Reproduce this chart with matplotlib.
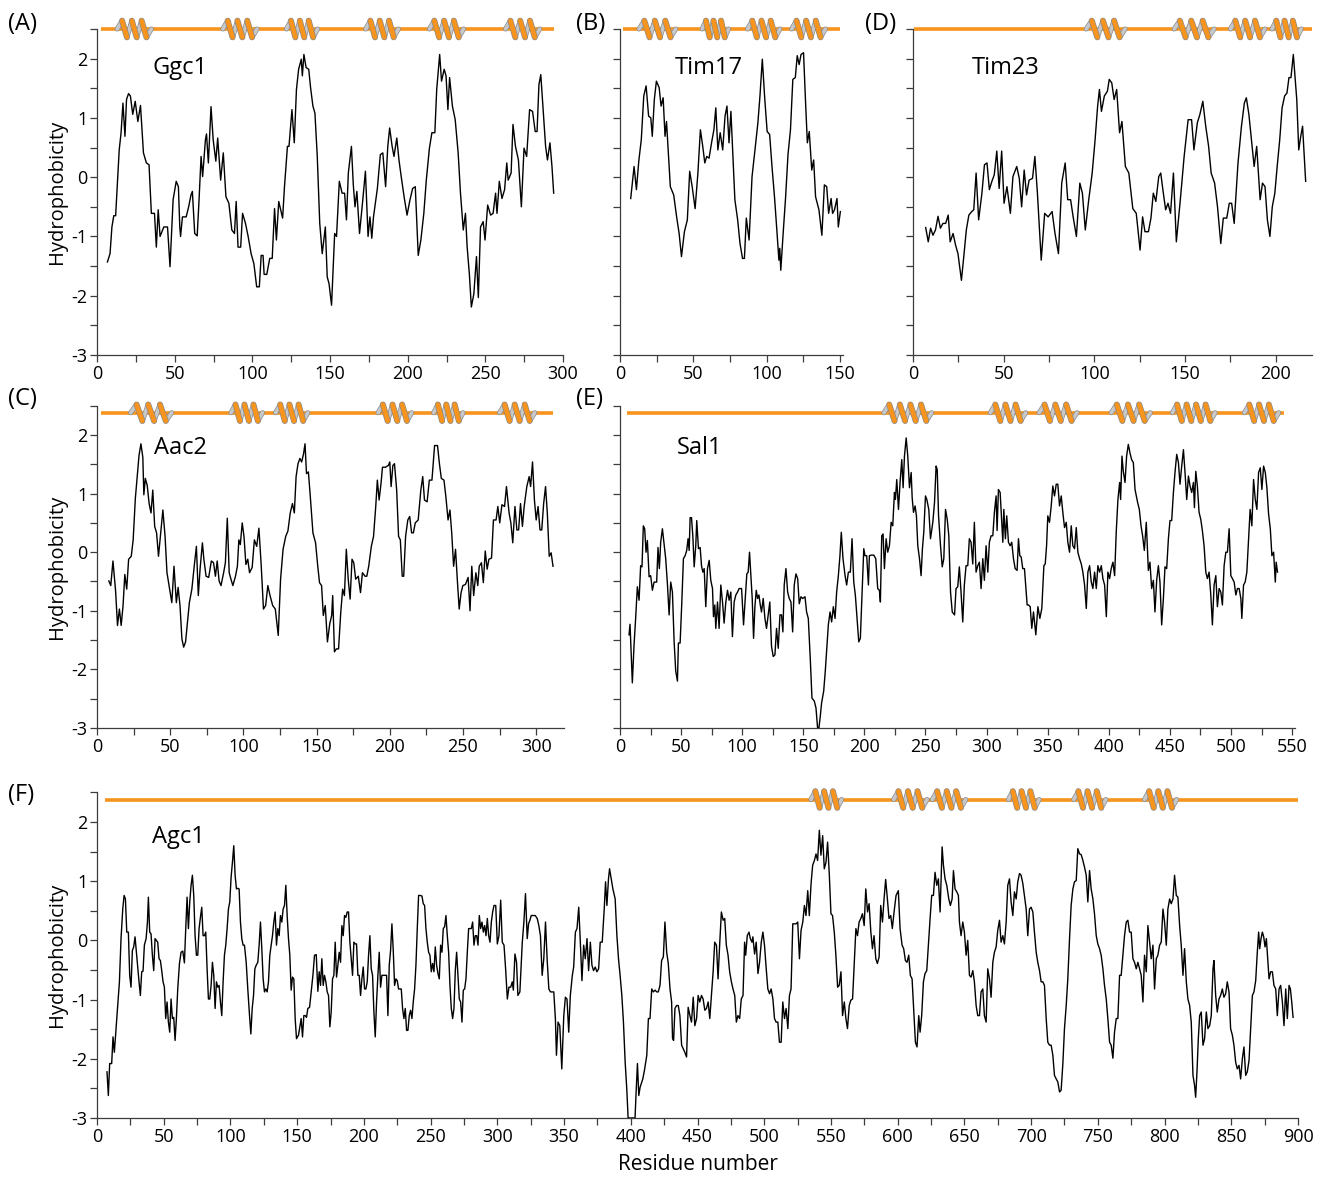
import matplotlib
matplotlib.use("Agg")
import matplotlib.pyplot as plt
import matplotlib.patheffects as pe
import numpy as np

plt.rcParams["font.family"] = ["Open Sans", "DejaVu Sans"]
plt.rcParams["axes.unicode_minus"] = False

# hydrophobicity profiles, (residue, value)
GGC1 = [(6.7,-1.43),(8.4,-1.29),(9.6,-0.84),(10.8,-0.65),(12,-0.65),(13,-0.16),(14.3,0.46),(15.5,0.75),(16.7,1.25),(18,0.69),(19,1.31),(20.3,1.41),(21.5,1.37),(23,1.06),(24.6,1.28),(26.3,0.94),(28,1.21),(29.9,0.41),(31.8,0.24),(33.5,0.21),(35,-0.61),(37,-0.61),(38.2,-1.18),(39.4,-0.55),(40.6,-1.0),(43,-0.84),(45.4,-0.84),(47,-1.51),(49,-0.38),(51,-0.07),(52.4,-0.16),(53.3,-0.84),(53.8,-1.0),(55,-0.67),(57.4,-0.67),(59,-0.5),(60.5,-0.3),(61.4,-0.24),(62.9,-0.95),(64.5,-0.99),(65.7,-0.38),(67,0.35),(68,0.01),(69.8,0.63),(70.5,0.73),(71.7,0.24),(73.4,1.19),(74.8,0.63),(76.5,0.27),(77.7,0.66),(79.6,-0.05),(81.3,0.41),(83,-0.33),(84.9,-0.44),(86.8,-0.89),(88.5,-0.95),(89.6,-0.41),(90.8,-1.18),(92.5,-1.18),(93.7,-0.61),(95.6,-0.78),(97.3,-1.0),(99.2,-1.29),(101,-1.46),(102.8,-1.85),(104.5,-1.85),(105.7,-1.32),(106.9,-1.32),(107.6,-1.64),(109.3,-1.64),(111.2,-1.37),(112.8,-1.37),(114.3,-0.53),(115.5,-1.06),(117,-0.41),(119.5,-0.69),(120.7,-0.16),(122.6,0.52),(123.6,0.52),(125.5,1.14),(127,0.58),(128.4,1.48),(129.8,1.82),(131.5,1.99),(132.2,1.71),(133.2,2.07),(134.6,1.85),(136.3,1.82),(137.5,1.51),(139,1.2),(140.3,1.08),(141.8,0.35),(143.4,-0.78),(145,-1.29),(147,-0.84),(148.2,-1.68),(149.4,-1.8),(151,-2.16),(153,-0.95),(154.2,-1.0),(156,-0.07),(157.8,-0.27),(159.4,-0.27),(160.6,-0.72),(161.8,0.07),(163.8,0.52),(165,-0.13),(166.1,-0.5),(167.3,-0.24),(169,-0.95),(170.9,-0.44),(172.8,0.1),(174.5,-1.0),(175.7,-0.67),(176.9,-1.03),(178,-0.67),(180.5,-0.19),(182.4,0.38),(184,0.41),(185.8,-0.16),(187.2,0.52),(188.4,0.83),(190,0.52),(191.2,0.35),(193,0.66),(194.4,0.29),(196,-0.02),(197.7,-0.33),(199.6,-0.64),(201.5,-0.38),(203.2,-0.19),(204.9,-0.16),(206.8,-1.32),(208.5,-1.06),(210.4,-0.61),(212,-0.05),(214,0.49),(215.6,0.75),(217.5,0.75),(218.7,1.48),(220.6,2.07),(221.8,1.62),(223.5,1.82),(224.7,1.71),(225.9,1.14),(227,1.68),(228.8,1.2),(230.6,0.97),(232.5,0.41),(234,-0.27),(235.8,-0.89),(237.2,-0.61),(238.3,-1.18),(239.7,-1.63),(241,-2.19),(242.6,-1.97),(244.3,-1.34),(245.5,-2.03),(246.9,-0.84),(248.6,-0.75),(249.8,-1.06),(251.5,-0.47),(253.4,-0.64),(255,-0.61),(256.6,-0.27),(257.5,-0.61),(259,-0.07),(260.7,-0.36),(262.4,-0.21),(263.8,0.24),(264.7,-0.05),(266.6,0.07),(267.8,0.89),(269.4,0.52),(271.3,0.29),(273.2,-0.5),(274.9,0.49),(276.6,0.35),(278.5,1.14),(280.4,1.11),(282.1,0.77),(283.3,0.77),(284.5,1.56),(285.7,1.73),(287.4,1.06),(288.8,0.52),(290,0.29),(291.6,0.58),(292.9,0.18),(294,-0.27)]

TIM17 = [(7.3,-0.36),(9.6,0.18),(11.2,-0.21),(12.8,0.27),(14.5,0.63),(16.2,1.37),(17.8,1.54),(19.5,1.03),(21,1.0),(22,0.69),(23.4,1.31),(24.8,1.62),(26.7,1.51),(28,1.2),(29.4,1.34),(30.7,0.69),(31.7,0.94),(34.3,-0.16),(36.6,-0.3),(38.6,-0.67),(40.3,-0.95),(41.9,-1.34),(43.9,-0.92),(45.9,-0.72),(47.5,0.1),(49.2,-0.16),(51.2,-0.53),(53.1,0.07),(54.8,0.8),(56.4,0.52),(57.8,0.24),(59.1,0.35),(60.7,0.32),(62.4,0.58),(64,0.8),(65.3,1.17),(66.7,0.46),(68.3,0.75),(70,0.46),(71.6,1.03),(72.9,1.2),(74.3,0.58),(75.6,1.11),(78.3,-0.38),(80.2,-0.72),(81.8,-1.12),(83.5,-1.37),(84.8,-1.37),(86.1,-0.69),(88,-1.06),(90,0.01),(92,0.46),(94,0.92),(95.4,1.37),(97,1.99),(98.7,1.31),(100.3,0.77),(102,0.72),(103.6,0.18),(105.3,-0.33),(106.9,-0.89),(108.3,-1.4),(108.9,-1.2),(109.6,-1.57),(111.2,-0.95),(112.9,-0.33),(114.5,0.38),(116.2,0.8),(117.8,1.65),(119.5,1.68),(120.8,2.05),(122.1,1.9),(123.4,2.07),(125.1,2.1),(126.4,1.31),(127.7,0.58),(129,0.77),(130.7,0.12),(132,0.29),(133.3,-0.33),(135.6,-0.55),(137.6,-0.98),(139.3,-0.13),(140.9,-0.16),(142.2,-0.61),(143.9,-0.36),(144.9,-0.61),(146.2,-0.55),(147.9,-0.36),(148.8,-0.84),(150.2,-0.58)]

TIM23 = [(7,-0.85),(8.4,-1.09),(9.7,-0.86),(11,-0.98),(12.4,-0.89),(13.8,-0.66),(15.1,-0.86),(16.5,-0.78),(18,-0.78),(19.4,-0.64),(20.5,-1.09),(22.1,-0.95),(23.5,-1.15),(24.8,-1.29),(26.7,-1.74),(28,-1.34),(29.4,-0.89),(30.8,-0.64),(32.4,-0.58),(33.5,-0.55),(34.8,0.07),(36.2,-0.72),(38,-0.27),(39.4,0.21),(40.8,0.24),(42.1,-0.21),(43.5,-0.07),(44.8,0.04),(46.2,0.44),(47.5,-0.19),(48.9,0.44),(50.2,-0.44),(51.8,-0.16),(53.7,-0.61),(55.1,0.01),(57.2,0.18),(58.6,-0.02),(59.9,-0.5),(61.3,0.12),(62.6,-0.3),(64,-0.05),(65.9,-0.02),(67.2,0.35),(68.6,-0.27),(70.7,-1.4),(72.6,-0.61),(74.5,-0.67),(76.7,-0.58),(78.3,-0.95),(80.2,-1.29),(82,-0.1),(83.9,0.24),(85.3,-0.38),(86.9,-0.38),(88.3,-0.67),(90.1,-1.0),(92,-0.1),(93.4,-0.27),(95,-0.89),(96.9,-0.38),(98.8,0.07),(100.4,0.63),(101.8,1.2),(102.8,1.48),(103.9,1.11),(105.5,1.37),(107.2,1.45),(108.2,1.65),(109.6,1.59),(110.9,1.31),(112.3,1.48),(113.9,0.75),(115.2,0.94),(117.1,0.18),(119,0.07),(121.2,-0.53),(123.1,-0.61),(125.2,-1.23),(126.6,-0.67),(127.9,-0.92),(129.8,-0.92),(131.2,-0.69),(132.5,-0.27),(133.9,-0.41),(135.5,0.01),(136.6,0.07),(137.9,-0.24),(139.3,-0.55),(140.6,-0.44),(142,-0.61),(143.6,0.07),(145.2,-1.09),(147.4,-0.38),(149.5,0.35),(151.7,0.97),(153.6,0.97),(154.9,0.46),(156.8,0.92),(158.2,1.06),(159.8,1.28),(161.4,0.86),(163,0.52),(164.4,0.07),(166.3,-0.1),(167.9,-0.5),(169.7,-1.12),(171.1,-0.69),(173,-0.69),(174.4,-0.44),(175.7,-0.44),(177.1,-0.78),(179.2,0.24),(181.1,0.86),(182.7,1.25),(183.8,1.34),(185.2,1.06),(186.8,0.58),(188.1,0.18),(189.5,0.52),(191.4,-0.38),(192.7,-0.1),(194.1,-0.16),(195.4,-0.72),(196.8,-1.0),(198.1,-0.5),(199.5,-0.27),(200.8,0.18),(202.2,0.63),(203.5,1.17),(204.9,1.37),(206.2,1.42),(207.3,1.68),(208.4,1.68),(209.7,2.07),(211.6,1.31),(212.7,0.46),(213.8,0.69),(214.8,0.86),(216.5,-0.07)]

AAC2 = [(8.1,-0.49),(9.4,-0.57),(10.9,-0.15),(12.7,-0.66),(14,-1.25),(15.3,-0.97),(16.5,-1.25),(17.8,-0.91),(19,-0.38),(20.3,-0.63),(21.6,-0.12),(23.4,-0.07),(24.7,0.21),(26.2,0.92),(27.5,1.29),(28.7,1.65),(30,1.85),(31.3,1.62),(32,0.98),(33,1.26),(34.3,1.14),(35.6,0.83),(36.9,0.67),(38.1,1.06),(39.4,0.44),(40.7,0.33),(42,-0.07),(43.5,0.33),(45,0.72),(46.5,0.27),(47.8,-0.35),(49.6,-0.63),(51.1,-0.86),(52.6,-0.24),(54.2,-0.86),(55.4,-0.6),(56.7,-0.91),(58,-1.48),(59.2,-1.62),(60.5,-1.53),(61.8,-1.19),(63.1,-0.86),(64.8,-0.63),(66.4,-0.24),(67.9,0.1),(69.2,-0.74),(70.4,-0.29),(72,0.16),(73,-0.12),(74.5,-0.41),(76.3,-0.43),(78.1,-0.15),(79.6,-0.18),(80.9,-0.41),(82.1,-0.15),(83.4,-0.49),(84.7,-0.57),(86.5,-0.35),(87.7,-0.18),(89,0.58),(90.3,-0.35),(91.5,-0.46),(92.8,-0.57),(94.6,-0.41),(95.9,-0.24),(96.9,0.21),(97.9,0.13),(99.2,0.5),(100.4,0.27),(101.7,-0.21),(103,-0.12),(104.2,-0.35),(106,-0.26),(107.5,0.21),(109.1,0.1),(110.6,0.41),(112.2,-0.24),(113.7,-0.97),(115.2,-0.91),(116.7,-0.57),(118.2,-0.74),(120,-0.91),(121.8,-0.97),(123.8,-1.42),(125.4,-0.46),(127.1,0.05),(128.9,0.27),(130.4,0.36),(132,0.67),(133.5,0.83),(134.8,0.67),(136,1.29),(137.3,1.51),(138.6,1.6),(139.8,1.54),(141.1,1.68),(142.1,1.85),(143.1,1.34),(144.4,1.37),(145.7,0.95),(147.5,0.33),(149.3,0.16),(150.8,-0.24),(152,-0.52),(153.4,-0.57),(154.6,-1.08),(155.9,-0.91),(157.4,-1.53),(159,-1.22),(160.3,-1.08),(161,-0.74),(162.2,-1.7),(163.5,-1.65),(165,-1.65),(166.5,-1.03),(167.8,-0.63),(169,-0.74),(170.3,0.05),(171.6,-0.46),(172.9,-0.8),(174.2,-0.12),(175.4,-0.18),(176.7,-0.46),(178.5,-0.41),(180,-0.69),(181.3,-0.35),(183.1,-0.41),(184.3,-0.41),(185.6,-0.24),(187.4,0.1),(188.9,0.27),(190.4,0.78),(191.5,1.23),(192.7,0.89),(194,1.17),(195,1.45),(197,1.45),(199,1.48),(200,1.54),(200.9,1.12),(202.1,1.48),(203.2,1.51),(204.7,1.06),(206,0.27),(207.2,0.21),(208.5,-0.41),(209.5,-0.41),(210.8,0.27),(212.3,0.55),(213.6,0.61),(214.9,0.33),(216.1,0.33),(217.4,0.5),(219.4,0.55),(221.2,1.06),(222.5,1.29),(223.7,0.89),(225.5,0.86),(227,1.23),(228.8,1.23),(230.6,1.82),(232.6,1.82),(233.9,1.51),(235.2,1.26),(237,1.23),(238.3,0.95),(239.8,0.55),(241.1,0.72),(242.3,0.33),(243.6,-0.24),(244.9,0.05),(246.1,-0.46),(247.4,-0.97),(248.7,-0.69),(249.9,-0.57),(251.7,-0.55),(253.5,-0.43),(254.8,-1.0),(256,-0.24),(257.3,-0.74),(258.8,-0.35),(260.1,-0.57),(261.1,-0.24),(262.6,-0.18),(263.9,-0.52),(265.2,0.02),(266.5,-0.29),(267.7,-0.12),(269.5,-0.1),(270.8,0.55),(272.6,0.55),(273.8,0.78),(275.1,0.5),(276.6,0.81),(278.4,0.78),(279.7,1.12),(281.5,0.67),(282.7,0.5),(284,0.16),(285.5,0.78),(286.8,0.38),(288,0.38),(289.3,0.83),(290.6,0.44),(291.8,0.78),(293.6,1.12),(295.2,1.29),(296.2,1.12),(297.5,1.54),(298.8,0.89),(300,0.55),(301.3,0.78),(302.6,0.38),(303.8,0.38),(305.1,0.83),(306.4,1.12),(307.6,0.67),(308.9,-0.07),(310.2,-0.01),(311.5,-0.24)]

SAL1 = [(7.4,-1.41),(8.2,-1.23),(10.1,-2.23),(11.5,-1.58),(12.8,-1.13),(14.2,-0.59),(15.6,-0.82),(16.9,-0.23),(18,-0.25),(19.1,0.45),(20.2,0.4),(21.3,0.0),(22.4,0.2),(23.8,-0.42),(25.1,-0.4),(26.5,-0.65),(27.9,-0.51),(30,-0.51),(31.1,0.08),(32.2,-0.28),(33.3,0.17),(34.7,0.4),(36.1,0.14),(37.4,-0.11),(38.8,-0.54),(40.2,-1.07),(41.5,-0.51),(42.9,-0.68),(44.3,-1.53),(45.6,-2.03),(47,-2.2),(47.8,-1.55),(49.2,-1.55),(50.5,-0.9),(51.9,-0.11),(53.3,-0.06),(54.6,0.03),(55.7,0.23),(56.6,0.03),(57.4,0.59),(58.5,0.59),(59.6,0.28),(60.7,-0.25),(62,0.11),(62.8,0.54),(64.2,0.06),(65.6,0.08),(66.7,-0.23),(67.8,-0.34),(68.9,-0.28),(70.2,-0.93),(71.6,-0.28),(73,-0.14),(74.3,-0.48),(75.7,-0.62),(76.5,-1.1),(77.6,-0.9),(78.4,-1.3),(79.8,-0.85),(81.1,-1.3),(82.5,-0.56),(83.9,-0.85),(85.2,-1.21),(86.6,-0.85),(88,-0.65),(89.3,-0.82),(90.7,-0.68),(92,-1.44),(93.4,-0.85),(94.8,-0.73),(96.2,-0.68),(97.5,-0.62),(99.5,-0.62),(101.1,-1.24),(102.5,-0.79),(103.8,-0.37),(104.9,-0.34),(106,0.0),(107.1,-0.4),(108.2,-0.79),(109.3,-1.47),(110.4,-0.93),(111.5,-0.65),(112.6,-0.79),(113.7,-0.73),(114.8,-0.9),(115.8,-1.02),(117.2,-0.79),(118.6,-1.13),(119.9,-1.3),(121.3,-1.07),(122.6,-0.85),(124,-1.61),(125.4,-1.78),(126.8,-1.75),(128.1,-1.3),(129.5,-1.64),(130.9,-1.07),(132.2,-1.07),(133.3,-1.36),(134.4,-0.56),(135.8,-0.28),(137.2,-0.68),(138.5,-0.79),(139.9,-0.85),(141.3,-1.36),(142.6,-0.56),(144,-0.37),(145.4,-0.45),(146.7,-0.88),(148.1,-0.76),(149.5,-0.79),(151.4,-0.76),(152.7,-1.02),(154.1,-1.13),(155.7,-1.81),(157.1,-2.49),(159,-2.54),(160.4,-2.66),(161.7,-3.0),(162.8,-3.0),(163.9,-2.8),(165,-2.57),(166.7,-2.37),(168,-2.03),(169.4,-1.58),(170.5,-1.24),(171.9,-1.02),(173.2,-1.19),(174.6,-0.93),(176,-1.13),(177.3,-0.68),(178.7,-0.4),(180,-0.06),(181.1,0.34),(182.5,-0.11),(184.2,-0.4),(185.5,-0.56),(186.9,-0.34),(188.5,-0.34),(189.9,0.23),(191.3,-0.51),(192.6,-0.73),(194,-1.13),(195.4,-1.53),(196.7,-1.47),(198.1,-0.68),(199.5,0.06),(200.5,-0.06),(201.9,-0.06),(203.3,-0.56),(204.1,-0.06),(205.5,-0.05),(207.7,-0.05),(209.3,-0.11),(210.9,-0.62),(212.3,-0.65),(213.1,-0.85),(214.2,0.28),(215.3,0.31),(216.4,-0.28),(217.8,0.23),(219.1,0.0),(220.5,0.11),(221.9,0.51),(223.2,0.45),(224.6,1.02),(225.4,0.9),(226.5,1.24),(227.9,0.73),(229.2,1.19),(230.6,1.58),(231.7,1.1),(232.8,1.64),(234.2,1.95),(235.5,1.64),(236.9,1.1),(238.3,1.36),(239.1,0.93),(240.2,0.68),(241.5,0.79),(242.6,0.62),(243.7,0.11),(245.1,-0.11),(246.4,-0.4),(247.5,0.06),(248.6,0.34),(250,0.96),(251.1,0.9),(252.7,0.73),(254.1,0.23),(256,0.51),(257.4,0.85),(258.7,1.47),(259.6,1.41),(260.7,0.62),(262.3,0.11),(263.7,-0.25),(265,-0.11),(266.4,0.73),(267.8,0.56),(269.1,0.28),(270.5,-0.68),(271.9,-1.02),(273.8,-1.07),(275,-0.62),(276.4,-0.59),(277.7,-0.25),(279.1,-0.68),(280.5,-1.19),(281.8,-0.56),(283.2,-0.23),(284.6,-0.23),(285.9,0.23),(287.3,0.17),(288.7,-0.2),(290,0.51),(291.4,-0.34),(292.8,-0.23),(294.1,-0.17),(295.5,-0.62),(296.9,-0.11),(298.2,-0.48),(299.6,0.11),(301,-0.34),(302.3,0.17),(303.7,0.28),(305.1,0.28),(306.4,0.68),(307.8,0.96),(308.6,0.37),(309.7,1.07),(311.1,1.02),(313.3,0.17),(314.1,0.73),(315.4,0.23),(316.5,0.62),(317.9,0.17),(319.3,0.11),(320.6,0.17),(322,-0.11),(323.4,-0.28),(325,-0.31),(326.1,0.23),(327.2,-0.06),(328.3,-0.08),(329.6,-0.28),(331,-0.28),(333.2,-0.9),(334.3,-0.9),(335.7,-0.93),(337,-1.3),(338.4,-1.02),(340.3,-1.41),(342,-0.93),(343.6,-1.13),(345.2,-0.96),(346.9,-0.23),(348,-0.2),(349.1,0.11),(350.1,0.62),(351.5,0.51),(352.9,0.79),(354.2,1.13),(355.6,0.96),(357,1.16),(358.3,1.16),(359.7,0.79),(361.1,0.96),(362.4,0.68),(363.8,0.42),(365.2,0.51),(366.5,0.17),(367.9,0.0),(369.3,0.45),(370.6,0.11),(372,0.06),(373.4,0.42),(374.7,0.0),(376.1,-0.11),(377.5,-0.2),(378.8,-0.34),(380.2,-0.56),(381.6,-0.96),(382.9,-0.34),(384.3,-0.23),(385.7,-0.51),(387,-0.62),(388.4,-0.34),(389.8,-0.62),(391.1,-0.23),(392.5,-0.34),(393.9,-0.23),(395.2,-0.45),(396.6,-0.56),(398,-1.1),(399.3,-0.34),(400.7,-0.45),(402,-0.28),(403.4,-0.17),(404.8,-0.4),(406.1,0.34),(407.5,0.9),(408.9,1.19),(409.7,0.9),(410.8,1.64),(411.9,1.38),(413.3,1.19),(414.6,1.64),(416,1.84),(417.4,1.69),(418.7,1.58),(420.1,1.53),(421.5,1.07),(423.6,0.85),(425,0.73),(426.4,0.45),(427.7,0.28),(429.1,0.03),(430.7,0.51),(432.4,-0.31),(433.7,-0.17),(435.1,-0.62),(436.5,-0.48),(437.8,-1.02),(439.2,-0.48),(440.6,-0.23),(441.9,-0.51),(443.3,-1.24),(444.7,-0.79),(446,-0.25),(447.4,-0.28),(448.8,0.23),(450.1,0.54),(451.5,0.54),(452.9,1.02),(454.2,1.36),(455.6,1.67),(457,1.53),(458.3,1.16),(459.7,1.47),(461.1,1.75),(462.4,1.36),(463.8,0.9),(465.2,1.3),(466.5,1.13),(467.9,1.02),(469.3,1.19),(470.1,0.76),(471.2,1.38),(472.5,1.13),(473.9,0.68),(475.3,0.56),(476.6,0.37),(478,0.11),(479.4,-0.34),(480.7,-0.45),(482.1,-0.34),(483.5,-0.73),(484.8,-1.24),(486.2,-0.56),(487.6,-0.4),(488.9,-0.93),(490.3,-0.62),(491.7,-0.68),(493,-0.9),(494.4,-0.23),(495.8,0.0),(497.1,0.0),(498.5,0.4),(499.9,-0.4),(501.2,-0.45),(502.6,-0.51),(504,-0.73),(505.3,-0.62),(506.7,-0.62),(508.1,-0.79),(508.9,-1.13),(510.3,-0.56),(511.6,-0.51),(513,-0.34),(514.4,0.23),(515.7,0.73),(517.1,0.45),(518.5,1.24),(519.9,0.9),(521.2,0.73),(522.6,1.36),(524,1.44),(525.3,1.07),(526.7,1.47),(528.1,1.36),(529.4,1.1),(530.8,0.65),(532.2,0.4),(533.5,-0.06),(534.9,0.0),(536.3,-0.51),(537,-0.17),(538.1,-0.34)]

AGC1 = [(7.5,-2.22),(8.5,-2.62),(9.5,-2.08),(11,-2.08),(12,-1.63),(13,-1.89),(14.3,-1.49),(15.5,-1.1),(16.8,-0.7),(18,0.03),(19.3,0.53),(20.3,0.76),(21.3,0.7),(22.3,0.14),(23.5,0.14),(24.5,-0.59),(25.5,-0.79),(26.5,-0.17),(27.5,-0.11),(28.5,0.06),(29.5,-0.2),(30.5,-0.48),(31.5,-0.7),(32.5,-0.93),(33.5,-0.53),(34.5,-0.52),(35.5,-0.08),(36.8,0.03),(37.8,0.31),(38.5,0.73),(39.5,0.14),(40.5,0.11),(41.5,-0.25),(42.5,-0.51),(43.5,0.03),(44.5,0.0),(45.5,-0.03),(46.5,-0.31),(47.5,-0.34),(48.5,-0.51),(49.5,-0.7),(50.5,-0.79),(51.5,-1.32),(52.5,-1.04),(53.5,-1.38),(54.5,-1.55),(55.5,-0.99),(56.5,-1.32),(57.5,-1.3),(58.5,-1.69),(59.5,-1.32),(60.5,-0.82),(61.8,-0.39),(63,-0.2),(64.3,-0.18),(65.5,-0.38),(66.5,0.2),(67.5,0.73),(68.5,0.2),(69.5,0.65),(70.5,0.93),(71.5,1.1),(72.5,0.76),(73.5,0.08),(74.5,-0.25),(75.5,-0.25),(76.5,0.2),(77.5,0.39),(78.5,0.56),(79.5,0.08),(80.5,0.08),(81.5,0.14),(82.5,-0.48),(83.5,-0.99),(84.5,-0.99),(85.5,-0.76),(86.5,-0.37),(87.5,-0.59),(88.5,-1.15),(89.5,-0.7),(90.5,-0.79),(91.5,-0.76),(92.5,-1.04),(93.5,-1.27),(94.5,-0.7),(95.5,-0.25),(96.5,-0.08),(97.5,0.2),(98.5,0.53),(99.5,0.65),(100.5,1.07),(101.5,1.32),(102.5,1.6),(103.5,1.1),(104.5,0.87),(105.5,0.88),(106.5,0.87),(107.5,0.31),(108.5,0.03),(109.5,-0.08),(110.5,-0.08),(111.8,-0.37),(113,-0.82),(114.3,-1.27),(115.3,-1.58),(116.3,-1.15),(117.3,-0.93),(118.3,-0.48),(119.3,-0.42),(120.5,-0.37),(121.5,-0.08),(122.5,0.31),(123.5,-0.14),(124.5,-0.65),(125.5,-0.87),(126.5,-0.82),(127.5,-0.87),(128.5,-0.7),(129.5,-0.25),(130.5,-0.08),(131.5,0.08),(132.5,0.31),(133.5,0.48),(134.5,-0.08),(135.5,0.2),(136.5,0.08),(137.5,0.42),(138.5,0.31),(139.5,0.53),(140.5,0.59),(141.5,0.93),(142.5,0.42),(143.5,0.03),(144.5,-0.25),(145.5,-0.84),(146.5,-0.62),(147.5,-0.65),(148.5,-1.32),(149.5,-1.66),(151,-1.6),(152,-1.46),(153,-1.32),(154,-1.63),(155,-1.27),(156,-1.27),(157,-1.3),(158,-1.15),(159.3,-1.13),(160.5,-0.87),(161.8,-0.59),(163,-0.25),(164.3,-0.24),(165.5,-0.86),(166.5,-0.53),(167.5,-0.76),(168.5,-0.31),(169.5,-0.76),(170.5,-0.59),(171.5,-0.7),(172.5,-0.87),(173.5,-0.93),(174.5,-1.46),(175.5,-1.21),(176.5,-0.65),(177.5,-0.59),(178.5,-0.03),(179.5,-0.62),(180.5,-0.42),(181.5,-0.2),(182.5,-0.37),(183.5,0.25),(184.5,0.08),(185.5,0.42),(186.5,0.39),(187.5,0.48),(188.5,0.48),(189.5,-0.03),(190.5,-0.31),(191.5,-0.59),(192.5,-0.03),(193.5,-0.06),(194.5,-0.06),(195.5,-0.59),(196.5,-0.59),(197.5,-0.93),(198.5,-0.65),(199.5,-0.45),(200.5,-0.82),(201.5,-0.82),(202.5,-0.7),(203.5,-0.25),(204.5,0.08),(205.5,-0.48),(206.5,-0.59),(207.5,-1.21),(208.5,-1.63),(209.5,-1.04),(210.5,-0.59),(211.5,-0.2),(212.5,-0.79),(213.5,-0.59),(214.5,-0.59),(216,-0.59),(217,-0.59),(218,-1.27),(219,-0.42),(220,-0.17),(221,0.28),(222,-0.17),(223,-0.76),(224,-0.65),(225,-0.68),(226,-0.82),(227,-0.82),(228,-0.82),(229,-1.15),(230,-1.32),(231,-1.15),(232,-1.52),(233,-1.52),(234,-1.27),(235,-1.18),(236,-1.32),(237,-1.04),(238,-0.82),(239,-0.42),(240,0.2),(241,0.76),(242,0.76),(243.5,0.75),(244.5,0.62),(245.5,0.59),(246.5,0.2),(247.5,-0.03),(248.5,-0.2),(249.5,-0.25),(250.5,-0.53),(251.5,-0.39),(252.5,-0.53),(253.5,-0.11),(254.5,-0.42),(255.5,-0.56),(256.5,-0.65),(257.5,-0.08),(258.5,-0.2),(259.5,0.2),(260.5,0.23),(261.5,0.42),(262.5,0.08),(263.5,-0.2),(264.5,-0.76),(265.5,-1.15),(266.5,-1.32),(267.5,-1.15),(268.5,-0.51),(269.5,-0.2),(270.5,-0.59),(271.5,-0.99),(272.5,-1.04),(273.5,-1.38),(274.5,-0.84),(275.5,-0.82),(276.5,-0.65),(277.5,-0.2),(278.5,0.2),(279.5,0.2),(280.5,0.2),(281.5,0.31),(282.5,-0.08),(283.5,0.08),(284.5,0.08),(285.5,-0.08),(286.5,0.42),(287.5,0.2),(288.5,0.31),(289.5,0.14),(290.5,0.25),(291.5,0.08),(292.5,0.37),(293.5,0.08),(294.5,-0.03),(295.5,0.31),(296.5,0.48),(297.5,0.59),(298.8,0.59),(300,-0.06),(301.2,0.08),(302.5,0.68),(303.7,-0.03),(305,-0.08),(306.2,-0.48),(307.5,-0.99),(308.7,-0.79),(310,-0.79),(311.2,-0.7),(312,-0.84),(313.2,-0.23),(314.4,-0.37),(315.4,-0.93),(316.9,-0.87),(318.7,-0.03),(319.9,0.31),(321.1,0.79),(322.4,0.03),(323.4,0.28),(324.4,0.34),(325.4,0.42),(326.9,0.42),(328.4,0.42),(329.9,0.37),(331.1,0.25),(332.3,0.08),(333.6,-0.59),(334.8,-0.31),(336.1,0.31),(337.3,-0.31),(338.6,-0.82),(339.8,-0.87),(342.3,-0.87),(343.5,-1.32),(344.3,-1.94),(345.5,-1.38),(346.8,-1.44),(348.3,-2.17),(349.8,-1.27),(351,-0.96),(352.2,-0.99),(353.5,-1.55),(354.7,-0.93),(356.2,-0.59),(357.2,-0.45),(358.5,0.14),(359.7,0.2),(361,0.56),(362.2,-0.03),(363.4,-0.68),(364.7,-0.08),(365.9,-0.31),(367.2,0.03),(368.4,-0.51),(369.7,-0.03),(370.9,-0.42),(372.1,-0.51),(373.4,-0.45),(374.6,-0.53),(375.9,-0.48),(377.1,-0.03),(378.6,-0.03),(380.1,0.53),(381.1,0.99),(382.1,0.59),(383.3,1.04),(384.1,1.21),(385.1,1.07),(386.6,0.87),(388.3,0.7),(389.6,0.08),(390.8,-0.31),(392,-0.59),(393.3,-0.93),(394.5,-1.38),(395.8,-2.06),(397,-2.51),(398,-3.0),(403.2,-3.0),(404,-2.56),(405,-2.08),(406,-2.62),(407,-2.48),(409,-2.34),(410.2,-2.2),(412,-1.94),(413.2,-1.32),(414.4,-1.32),(415.7,-0.82),(416.9,-0.87),(418.2,-0.84),(419.4,-0.87),(420.6,-0.87),(421.9,-0.76),(423.1,-0.34),(424.4,-0.28),(425.6,0.31),(426.9,-0.2),(428.1,-0.39),(429.4,-0.82),(430.6,-1.04),(431.3,-1.66),(432.1,-1.69),(433.1,-1.15),(434.3,-1.1),(435.6,-1.1),(436.8,-1.27),(438.1,-1.77),(439.3,-1.83),(440.5,-1.89),(441.8,-1.97),(443,-1.13),(444.3,-1.27),(445.5,-1.38),(446.8,-0.96),(448,-1.44),(449.3,-1.32),(450.5,-0.93),(451.7,-1.04),(453,-0.93),(454.2,-0.99),(455.5,-1.18),(456.7,-1.15),(458,-1.04),(459.2,-1.32),(460.4,-0.93),(461.7,-0.53),(462.9,-0.03),(464.2,-0.08),(465.4,-0.65),(466.7,-0.03),(467.9,0.48),(469.2,0.34),(470.4,0.37),(471.6,-0.08),(472.9,-0.25),(474.1,-0.53),(475.4,-0.7),(476.6,-0.82),(477.9,-0.93),(479.1,-1.38),(480.3,-1.27),(481.6,-1.32),(482.8,-0.99),(484.1,-0.93),(485.3,-0.03),(486.1,-0.25),(487.3,0.08),(488.6,0.14),(489.6,0.03),(490.8,-0.03),(491.5,0.06),(492.8,-0.23),(494,-0.03),(495.3,-0.56),(496.5,-0.37),(497.8,-0.03),(499,0.14),(500.2,-0.08),(501.5,-0.48),(502.7,-0.82),(504,-0.9),(505.2,-0.82),(506.5,-0.99),(507.7,-1.32),(508.9,-1.38),(510.2,-1.38),(511.4,-1.72),(512.7,-1.72),(513.9,-1.04),(515.2,-1.32),(516.4,-1.15),(517.7,-1.49),(518.9,-0.93),(520.1,-0.82),(521.4,0.28),(523.9,0.28),(525.1,0.31),(526.4,-0.31),(527.6,0.17),(528.9,0.31),(530.1,0.59),(531.3,0.42),(532.6,0.84),(533.8,0.42),(535.1,0.96),(536.3,1.27),(537.6,1.35),(538.8,1.46),(540,1.35),(541.3,1.86),(542.5,1.44),(543.8,1.77),(545,1.21),(546.3,1.32),(547.5,1.66),(548.8,1.1),(550,0.45),(551.2,0.42),(552.5,0.14),(553.7,-0.25),(555,-0.79),(556.2,-0.76),(557.5,-0.53),(558.7,-1.27),(560,-1.04),(561.2,-1.32),(562.4,-1.49),(563.7,-1.1),(564.9,-1.01),(566.2,-0.99),(567.4,-0.42),(568.7,0.2),(569.9,0.08),(571.1,0.31),(572.4,0.37),(573.6,0.45),(574.9,0.25),(576.1,0.87),(577.4,0.48),(578.6,0.62),(579.9,0.14),(581.1,-0.14),(582.3,0.08),(583.6,-0.31),(584.8,-0.39),(586.1,-0.28),(587.3,0.59),(588.6,0.31),(589.8,0.7),(591,1.03),(592.3,0.7),(593.5,0.37),(594.8,0.42),(596,0.2),(597.3,0.48),(598.8,0.76),(600.5,0.84),(601.8,0.2),(603.3,-0.08),(604.5,-0.14),(605.8,-0.34),(607,-0.37),(608.3,-0.25),(609.5,-0.59),(610.8,-0.65),(612,-1.15),(613.3,-1.72),(614.5,-1.8),(615.8,-1.27),(616.8,-1.55),(618,-1.27),(619.3,-0.7),(620.5,-0.56),(621.8,-0.51),(623,-0.08),(624.3,0.37),(625.5,0.76),(626.8,0.76),(628,1.15),(629.3,0.93),(630.5,1.04),(631.8,0.48),(633.3,1.58),(634.3,1.27),(635.5,1.04),(636.8,0.93),(638.3,0.7),(639.5,0.59),(640.8,0.7),(641.8,1.18),(643,0.87),(644.3,0.82),(645.5,0.76),(646.3,0.31),(647.5,0.08),(648.8,0.31),(650,0.14),(651.3,-0.25),(652.5,0.0),(653.8,-0.59),(655,-0.62),(656.3,-0.51),(657.5,-0.7),(658.8,-1.1),(660,-1.27),(661.3,-1.27),(662.5,-0.87),(663.8,-0.82),(665,-1.27),(666.3,-1.38),(667.5,-0.48),(668.8,-0.65),(670,-0.96),(671.3,-0.37),(672.5,-0.2),(673.8,-0.11),(675,0.17),(676.3,0.34),(677.5,-0.03),(678.8,0.08),(680,-0.06),(681.3,0.31),(682.5,0.93),(683.8,1.04),(685,0.65),(686.3,0.42),(687.5,0.82),(688.8,0.7),(690,0.99),(691.3,1.13),(692.5,1.1),(693.8,0.96),(695,0.76),(696.3,0.53),(697.5,0.08),(698.8,0.53),(700,0.56),(701.3,0.48),(702.5,0.14),(703.8,-0.2),(705,-0.37),(706.3,-0.51),(707.5,-0.7),(708.8,-0.7),(710,-0.76),(711.3,-1.32),(712.5,-1.72),(713.8,-1.77),(715,-1.77),(716.3,-1.94),(717.5,-2.28),(718.8,-2.34),(720,-2.39),(721.3,-2.56),(722.5,-2.53),(723.8,-2.08),(725,-1.49),(726.3,-1.1),(727.5,-0.65),(728.8,0.03),(730,0.59),(731.3,0.87),(732.5,0.99),(733.8,1.01),(735,1.55),(736.3,1.46),(737.5,1.45),(738.8,1.35),(740,1.24),(741.3,1.1),(742.5,0.65),(743.8,1.18),(745,0.87),(746.3,0.7),(747.5,0.45),(748.8,0.08),(750,-0.06),(751.3,-0.14),(752.5,-0.25),(753.8,-0.48),(755,-0.76),(756.3,-0.99),(757.5,-1.32),(758.8,-1.72),(760,-1.77),(761.3,-1.99),(762.5,-1.55),(763.8,-1.32),(765,-1.32),(766.3,-0.59),(767.5,-0.59),(768.8,-0.25),(770,0.08),(771.3,0.31),(772.5,0.34),(773.8,0.14),(775,0.14),(776.3,-0.31),(777.5,-0.37),(778.8,-0.48),(780,-0.37),(781.3,-0.48),(782.5,-0.59),(783.8,-1.04),(785,-0.25),(786.3,-0.53),(787.5,0.25),(788.8,-0.03),(790,-0.31),(791.3,-0.08),(792.5,-0.82),(793.8,-0.31),(795,-0.25),(796.3,-0.08),(797.5,-0.03),(798.8,0.53),(800,0.31),(801.3,-0.08),(802.5,0.53),(803.8,0.7),(805,0.62),(806.3,0.7),(807.5,1.1),(808.8,0.76),(810,0.73),(811.3,0.25),(812.5,-0.08),(813.8,-0.59),(815,-0.14),(816.3,-0.7),(817.5,-0.99),(818.8,-1.1),(820,-1.38),(821.3,-2.28),(822.5,-2.45),(823.3,-2.65),(824.3,-2.22),(825.3,-1.66),(826.3,-1.27),(827.5,-1.21),(828.8,-1.77),(830,-1.66),(831.3,-1.21),(832.5,-1.49),(833.8,-1.44),(835,-1.27),(836.3,-0.48),(837,-0.34),(838.3,-0.93),(839.5,-1.21),(840.8,-0.99),(842,-0.93),(843.3,-0.82),(844.5,-0.96),(845.8,-0.9),(847,-0.7),(848.3,-0.87),(849.5,-1.49),(850.8,-1.6),(852,-1.77),(853.3,-2.06),(854.5,-2.17),(855.8,-2.11),(857,-2.34),(858.3,-2.0),(859.5,-1.8),(860.8,-2.28),(862,-2.22),(863.3,-2.03),(864.5,-1.49),(865.8,-0.93),(867,-0.87),(868.3,-0.68),(869.5,-0.2),(870.5,0.14),(871.3,-0.14),(872.3,0.03),(873.3,0.14),(874.3,0.06),(875.3,-0.11),(876.3,0.03),(877.3,-0.31),(878.3,-0.65),(879.5,-0.53),(880.8,-0.53),(882,-0.76),(883.3,-0.82),(884.5,-1.27),(885.8,-0.82),(887,-0.76),(888.3,-1.04),(889.5,-1.44),(890.8,-0.82),(892,-1.32),(893.3,-0.76),(894.3,-0.82),(895.3,-1.04),(896.3,-1.3)]

# predicted transmembrane helices (start, end residue)
GGC1_TM = [(13, 35), (81, 103), (122, 142), (173, 194), (214, 236), (263, 285)]
TIM17_TM = [(13, 38), (56, 74), (87, 109), (117, 140)]
TIM23_TM = [(95.5, 117), (144, 166), (175, 194), (198, 214)]
AAC2_TM = [(23, 51), (91.5, 113), (122, 144), (192, 215), (230, 250), (275, 299)]
SAL1_TM = [(216, 255), (303, 332), (343, 374), (402, 434), (452, 487), (511, 539)]
AGC1_TM = [(535, 558), (597, 622), (626, 651), (683, 706), (732, 756), (785, 809)]

W, H = 1330, 1178
ORANGE = "#f7941d"
AXCOL = "#3c3c3c"

fig = plt.figure(figsize=(W / 100, H / 100), dpi=100)


def add_panel(left, top, right, bottom, xmax, xticks):
    ax = fig.add_axes([left / W, 1 - bottom / H, (right - left) / W, (bottom - top) / H])
    ax.set_xlim(0, xmax)
    ax.set_ylim(-3, 2.5)
    for s in ["top", "right"]:
        ax.spines[s].set_visible(False)
    for s in ["left", "bottom"]:
        ax.spines[s].set_color(AXCOL)
        ax.spines[s].set_linewidth(0.9)
    ax.set_xticks(xticks)
    ax.set_xticks(np.arange(25, xmax + 0.1, 50), minor=True)
    ax.set_yticks([-3, -2, -1, 0, 1, 2])
    ax.set_yticks([-2.5, -1.5, -0.5, 0.5, 1.5, 2.5], minor=True)
    ax.tick_params(which="both", direction="out", length=5, width=0.9, color=AXCOL,
                   labelsize=13, pad=2)
    return ax


def draw_topology(ax, x0, x1, y, helices, px_per_unit):
    ax.plot([x0, x1], [y, y], color=ORANGE, lw=2.6, solid_capstyle="butt", clip_on=False, zorder=4)
    amp = 0.14
    for a, b in helices:
        k = max(3, int(round((b - a) * px_per_unit / 12)))
        dx = (b - a) / (2 * k + 1)
        xs = [a] + [a + dx * (i + 1) for i in range(2 * k)] + [b]
        ys = [y] + [y + amp if i % 2 == 0 else y - amp for i in range(2 * k)] + [y]
        # back strokes grey, front strokes orange
        for i in range(len(xs) - 1):
            front = i % 2 == 1
            col = ORANGE if front else "#c8c8c8"
            lw = 3.3 if front else 2.6
            ax.plot(xs[i:i + 2], ys[i:i + 2], color=col, lw=lw, solid_capstyle="round",
                    clip_on=False, zorder=6 if front else 5,
                    path_effects=[pe.Stroke(linewidth=lw + 1.0, foreground="#8a8a8a"), pe.Normal()])


def plot_profile(ax, data):
    res, hyd = zip(*data)
    ax.plot(res, hyd, color="black", lw=1.0, zorder=3)


panels = [
    # data, helices, axes box (px), xmax, xticks, chain extent, chain y, name, name pos, letter, letter pos, y labels
    (GGC1, GGC1_TM, (97, 29, 563, 355), 300, range(0, 301, 50), (2.4, 294), 2.5, "Ggc1", (0.12, 0.88), "(A)", (8, 24), True),
    (TIM17, TIM17_TM, (620, 29, 843, 355), 152, range(0, 151, 50), (2.3, 150), 2.5, "Tim17", (0.245, 0.88), "(B)", (576, 24), False),
    (TIM23, TIM23_TM, (913, 29, 1312, 355), 220, range(0, 201, 50), (0.5, 220), 2.5, "Tim23", (0.146, 0.88), "(D)", (865, 24), False),
    (AAC2, AAC2_TM, (97, 405.7, 564, 728), 319, range(0, 301, 50), (2.5, 311.5), 2.38, "Aac2", (0.122, 0.87), "(C)", (8, 399), True),
    (SAL1, SAL1_TM, (620, 405.7, 1294.5, 728), 552, range(0, 551, 50), (5.6, 543), 2.38, "Sal1", (0.084, 0.87), "(E)", (576, 399), False),
    (AGC1, AGC1_TM, (97, 792.4, 1298, 1118), 900, range(0, 901, 50), (6, 900), 2.38, "Agc1", (0.046, 0.862), "(F)", (8, 795), True),
]

for data, tm, box, xmax, xt, ext, ly, name, npos, letter, lpos, ylab in panels:
    ax = add_panel(*box, xmax, list(xt))
    plot_profile(ax, data)
    ppu = (box[2] - box[0]) / xmax
    draw_topology(ax, ext[0], ext[1], ly, tm, ppu)
    ax.text(npos[0], npos[1], name, transform=ax.transAxes, fontsize=17, ha="left", va="center")
    fig.text(lpos[0] / W, 1 - lpos[1] / H, letter, fontsize=17, ha="left", va="center")
    if ylab:
        ax.set_ylabel("Hydrophobicity", fontsize=14.5, labelpad=3)
    else:
        ax.tick_params(axis="y", labelleft=False)
    if name == "Agc1":
        ax.set_xlabel("Residue number", fontsize=15, labelpad=6)

fig.savefig("out.png", dpi=100)
